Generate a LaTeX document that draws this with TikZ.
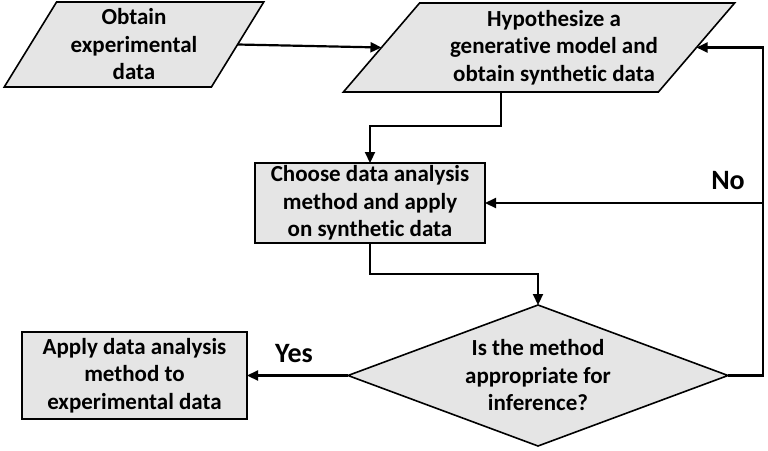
\documentclass[tikz,border=0pt]{standalone}
\usepackage{fontspec}
\setmainfont[Ligatures=CommonOff]{Carlito}
\usetikzlibrary{shapes.geometric, arrows.meta}

\begin{document}
\begin{tikzpicture}[x=1pt, y=-1pt,
        txt/.style={align=center, font=\fontsize{23}{27.5}\selectfont\bfseries},
        box/.style={txt, draw, line width=1.6pt, fill=gray!20, outer sep=0pt, inner sep=0pt},
        para/.style={box, trapezium, trapezium stretches=true},
        flow/.style={line width=2.2pt, -{Triangle[length=11pt, width=10pt]}},
        answer/.style={font=\fontsize{28}{32}\selectfont\bfseries}]

                \useasboundingbox (0, 0) rectangle (768, 450);

                \node[para, trapezium left angle=59, trapezium right angle=121, minimum width=260pt, minimum height=85pt] (obtain) at (134, 44.5) {Obtain\\experimental\\data};

                % text sits a little right of the shape centre
                \node[para, trapezium left angle=48.4, trapezium right angle=131.6, minimum width=392pt, minimum height=89pt,
                      label={[txt, xshift=15pt]center:Hypothesize a\\generative model and\\obtain synthetic data}] (hypo) at (539, 47.5)
                      {\phantom{Hypothesize a}\\\phantom{generative model and}\\\phantom{obtain synthetic data}};

                \node[box, minimum width=230pt, minimum height=80pt] (choose) at (370, 203) {Choose data analysis\\method and apply\\on synthetic data};

                \node[box, diamond, aspect=2.7, minimum width=380pt, minimum height=141pt] (decide) at (538, 375.5) {Is the method\\appropriate for\\inference?};

                \node[box, minimum width=225pt, minimum height=87pt] (apply) at (134.5, 375.5) {Apply data analysis\\method to\\experimental data};

                \node[answer] (no) at (728, 181) {No};

                \node[answer] (yes) at (294, 354) {Yes};

                \draw[flow] (obtain.east) -- (hypo.west);

                \draw[flow] (hypo.bottom side) -- ++(0, 34) -| (choose.north);

                \draw[flow] (choose.south) -- ++(0, 31) -| (decide.north);

                \draw[flow] (decide.east) -- ++(35, 0) coordinate (loop) |- (hypo.east);

                \draw[flow] (loop |- choose.east) -- (choose.east);

                \draw[flow] (decide.west) -- (apply.east);
\end{tikzpicture}
\end{document}
